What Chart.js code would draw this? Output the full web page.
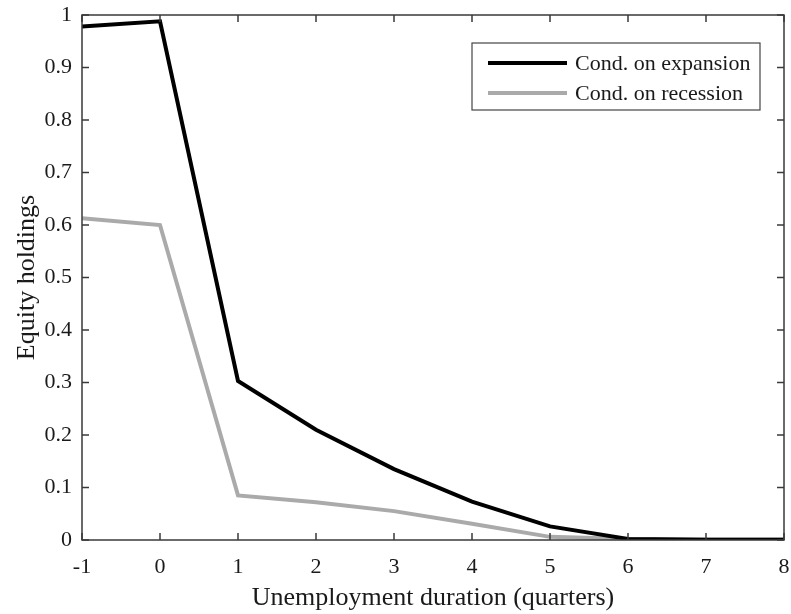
<!DOCTYPE html>
<html>
<head>
<meta charset="utf-8">
<script src="https://cdn.jsdelivr.net/npm/chart.js@4"></script>
<style>
  html, body { margin: 0; padding: 0; background: #fff; }
  #wrap { width: 791px; height: 614px; }
</style>
</head>
<body>
<div id="wrap"><canvas id="chart"></canvas></div>
<script>
const quarters = [-1, 0, 1, 2, 3, 4, 5, 6, 7, 8];
const expansion = [0.978, 0.988, 0.303, 0.21, 0.135, 0.073, 0.026, 0.002, 0.0005, 0.0005];
const recession = [0.613, 0.6, 0.085, 0.072, 0.055, 0.031, 0.006, 0.002, 0.001, 0.001];
const seriesNames = ["Cond. on expansion", "Cond. on recession"];

const axisColor = "#3a3a3a";
const textColor = "#1a1a1a";
const serif = "'Liberation Serif', 'DejaVu Serif', serif";

// MATLAB style box with ticks pointing inward, plus a boxed legend
const boxPlugin = {
  id: "box",
  afterDraw(chart) {
    const ctx = chart.ctx;
    const a = chart.chartArea;
    const xs = chart.scales.x, ys = chart.scales.y;
    const len = 7;
    ctx.save();
    ctx.strokeStyle = axisColor;
    ctx.lineWidth = 1.5;
    ctx.strokeRect(a.left, a.top, a.right - a.left, a.bottom - a.top);
    ctx.beginPath();
    xs.ticks.forEach(t => {
      const px = xs.getPixelForValue(t.value);
      ctx.moveTo(px, a.bottom); ctx.lineTo(px, a.bottom - len);
      ctx.moveTo(px, a.top); ctx.lineTo(px, a.top + len);
    });
    ys.ticks.forEach(t => {
      const py = ys.getPixelForValue(t.value);
      ctx.moveTo(a.left, py); ctx.lineTo(a.left + len, py);
      ctx.moveTo(a.right, py); ctx.lineTo(a.right - len, py);
    });
    ctx.stroke();

    // legend
    const lx = 472, ly = 43, lw = 288, lh = 67;
    ctx.fillStyle = "#fff";
    ctx.fillRect(lx, ly, lw, lh);
    ctx.lineWidth = 1.2;
    ctx.strokeStyle = "#444";
    ctx.strokeRect(lx, ly, lw, lh);
    ctx.font = "22px " + serif;
    ctx.textBaseline = "middle";
    chart.data.datasets.forEach((ds, i) => {
      const y = ly + 20 + i * 30;
      ctx.strokeStyle = ds.borderColor;
      ctx.lineWidth = ds.borderWidth;
      ctx.beginPath();
      ctx.moveTo(lx + 16, y); ctx.lineTo(lx + 95, y);
      ctx.stroke();
      ctx.fillStyle = textColor;
      ctx.fillText(ds.label, lx + 103, y + 1);
    });
    ctx.restore();
  }
};

new Chart(document.getElementById("chart"), {
  type: "line",
  data: {
    datasets: [
      {
        label: seriesNames[0],
        data: quarters.map((q, i) => ({ x: q, y: expansion[i] })),
        borderColor: "#000000",
        borderWidth: 4,
        pointRadius: 0,
        tension: 0,
      },
      {
        label: seriesNames[1],
        data: quarters.map((q, i) => ({ x: q, y: recession[i] })),
        borderColor: "#aaaaaa",
        borderWidth: 4,
        pointRadius: 0,
        tension: 0,
      },
    ],
  },
  options: {
    responsive: true,
    maintainAspectRatio: false,
    animation: false,
    layout: { padding: { left: 0, right: 7, top: 15, bottom: 0 } },
    plugins: {
      legend: { display: false },
      tooltip: { enabled: false },
    },
    scales: {
      x: {
        type: "linear",
        min: -1,
        max: 8,
        grid: { display: false },
        border: { display: false },
        ticks: {
          stepSize: 1,
          color: textColor,
          font: { family: serif, size: 22 },
          padding: 6,
          maxRotation: 0,
        },
        title: {
          display: true,
          text: "Unemployment duration (quarters)",
          color: textColor,
          font: { family: serif, size: 26 },
          padding: { top: 3, bottom: 0 },
        },
        afterFit(scale) {
          scale.height = 74;
          scale.paddingLeft = 0;
          scale.paddingRight = 0;
        },
      },
      y: {
        min: 0,
        max: 1,
        grid: { display: false },
        border: { display: false },
        ticks: {
          stepSize: 0.1,
          color: textColor,
          font: { family: serif, size: 22 },
          padding: 2,
          callback: v => String(+v.toFixed(1)),
        },
        title: {
          display: true,
          text: "Equity holdings",
          color: textColor,
          font: { family: serif, size: 26 },
          padding: { top: 12, bottom: 4 },
        },
        afterFit(scale) {
          scale.width = 82;
          scale.paddingTop = 0;
          scale.paddingBottom = 0;
        },
      },
    },
  },
  plugins: [boxPlugin],
});
</script>
</body>
</html>
